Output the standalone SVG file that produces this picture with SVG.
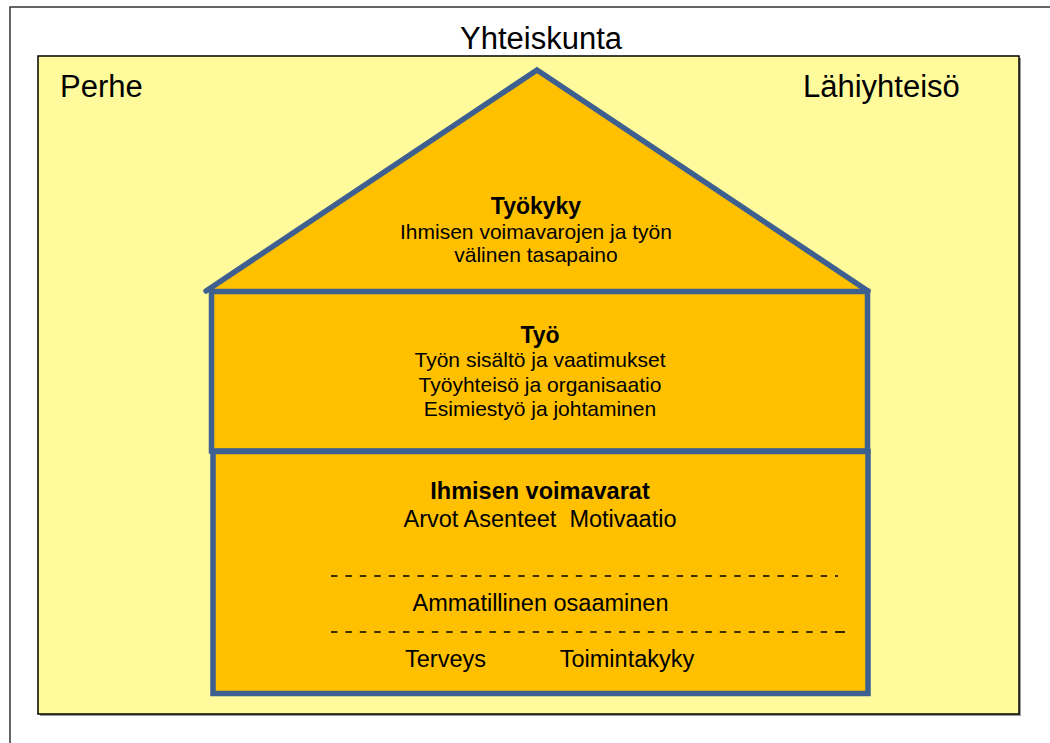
<svg xmlns="http://www.w3.org/2000/svg" width="1050" height="743" viewBox="0 0 1050 743">
<style>
.t{font-family:"Liberation Sans",Arial,sans-serif;fill:#000;text-anchor:middle}
.big{font-size:31px}
.h{font-weight:bold}
.orange{fill:#FFC000}
.blue{stroke:#3D6091;stroke-width:5.5;fill:none}
.dash{stroke:#000;stroke-width:1.6;stroke-dasharray:6.5 7.9}
</style>
<rect x="10" y="7" width="1060" height="760" fill="#fff" stroke="#333" stroke-width="1.5"/>
<g id="lahiyhteiso-bg">
<rect x="40" y="58" width="981" height="658" fill="#999"/>
<rect x="38" y="56" width="981" height="658" fill="#FFFB9C" stroke="#000" stroke-width="1.5"/>
</g>
<text class="t big" x="541" y="49">Yhteiskunta</text>
<text class="t big" x="60" y="97" style="text-anchor:start">Perhe</text>
<text class="t big" x="803" y="97" style="text-anchor:start">Lähiyhteisö</text>
<g id="tyokyky">
<polygon class="orange" points="207,291 537,70 867,291"/>
<path class="blue" d="M206,291 L537,70 L868,291" stroke-linecap="round" stroke-linejoin="miter"/>
<text class="t h" x="536" y="214" font-size="23">Työkyky</text>
<text class="t" x="536" y="239" font-size="21">Ihmisen voimavarojen ja työn</text>
<text class="t" x="536" y="262" font-size="21">välinen tasapaino</text>
</g>
<g id="tyo">
<rect class="orange" x="211.5" y="291.5" width="656" height="159.5"/>
<rect class="blue" x="211.5" y="291.5" width="656" height="159.5"/>
<text class="t h" x="540" y="343" font-size="23">Työ</text>
<text class="t" x="540" y="367" font-size="21">Työn sisältö ja vaatimukset</text>
<text class="t" x="540" y="392" font-size="21">Työyhteisö ja organisaatio</text>
<text class="t" x="540" y="416" font-size="21">Esimiestyö ja johtaminen</text>
</g>
<g id="voimavarat">
<rect class="orange" x="213" y="451.5" width="655" height="242"/>
<rect class="blue" x="213" y="451.5" width="655" height="242"/>
<text class="t h" x="540" y="499" font-size="23.5">Ihmisen voimavarat</text>
<text class="t" x="540" y="527" font-size="23.5" xml:space="preserve">Arvot Asenteet  Motivaatio</text>
<line class="dash" x1="331" y1="576" x2="838" y2="576"/>
<text class="t" x="540.5" y="611" font-size="23.5">Ammatillinen osaaminen</text>
<line class="dash" x1="331" y1="632" x2="838" y2="632"/>
<line x1="838" y1="632" x2="845" y2="632" stroke="#000" stroke-width="1.6"/>
<text class="t" x="445.5" y="667" font-size="23.5">Terveys</text>
<text class="t" x="627" y="667" font-size="23.5">Toimintakyky</text>
</g>
<g id="connectors"></g>
</svg>
